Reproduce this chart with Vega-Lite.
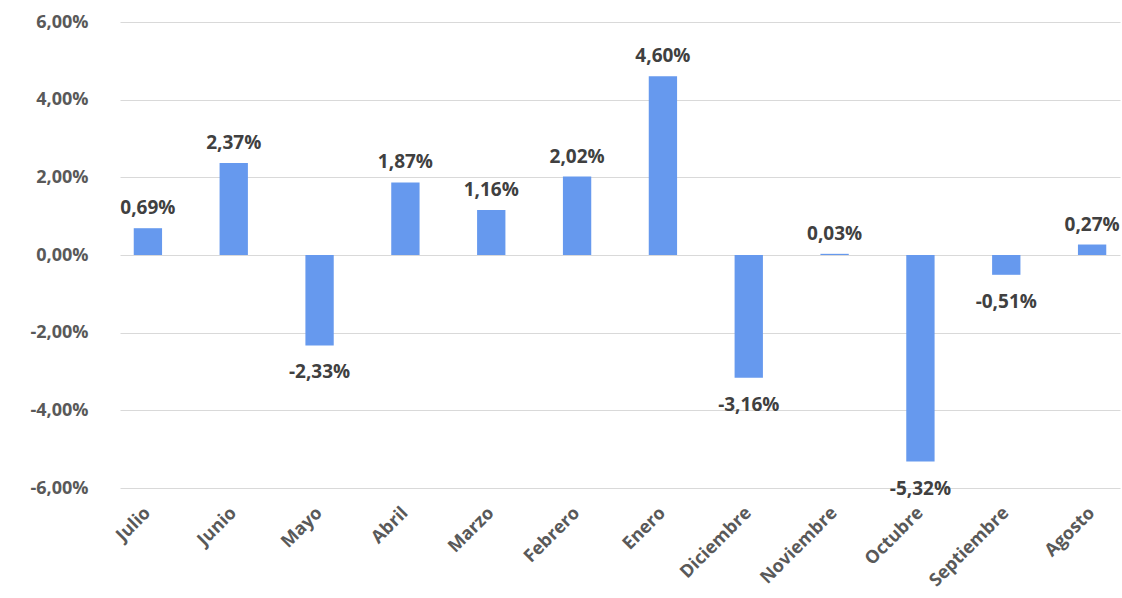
{
"$schema":"https://vega.github.io/schema/vega-lite/v6.json",
"autosize":{"type":"none"},
"padding":{"left":120,"top":22,"right":2,"bottom":110},
"width":1000,"height":466,
"config":{"locale":{"number":{"decimal":",","thousands":".","grouping":[3],"currency":["","€"],"minus":"-"}},"view":{"stroke":null},"font":"Open Sans"},
"data":{"values":[
{"m":"Julio","v":0.0069},{"m":"Junio","v":0.0237},{"m":"Mayo","v":-0.0233},{"m":"Abril","v":0.0187},{"m":"Marzo","v":0.0116},{"m":"Febrero","v":0.0202},{"m":"Enero","v":0.046},{"m":"Diciembre","v":-0.0316},{"m":"Noviembre","v":0.0003},{"m":"Octubre","v":-0.0532},{"m":"Septiembre","v":-0.0051},{"m":"Agosto","v":0.0027}]},
"encoding":{
"x":{"field":"m","type":"nominal","sort":null,"title":null,"scale":{"paddingInner":0.67,"paddingOuter":0.16},
"axis":{"labelAngle":-45,"labelAlign":"right","labelBaseline":"middle","labelFontSize":18,"labelFontWeight":"bold","labelColor":"#595959","labelPadding":22,"domain":false,"ticks":false}},
"y":{"field":"v","type":"quantitative","title":null,"scale":{"domain":[-0.06,0.06]},
"axis":{"values":[-0.06,-0.04,-0.02,0,0.02,0.04,0.06],"format":".2%","labelFontSize":18,"labelFontWeight":"bold","labelColor":"#595959","labelPadding":32,"domain":false,"ticks":false,"gridColor":"#d9d9d9"}}
},
"layer":[
{"mark":{"type":"bar","color":"#6699ee"}},
{"transform":[{"filter":"datum.v>=0"}],"mark":{"type":"text","baseline":"bottom","dy":-10,"fontSize":19,"fontWeight":"bold","color":"#404040"},"encoding":{"text":{"field":"v","format":".2%"}}},
{"transform":[{"filter":"datum.v<0"}],"mark":{"type":"text","baseline":"top","dy":18,"fontSize":19,"fontWeight":"bold","color":"#404040"},"encoding":{"text":{"field":"v","format":".2%"}}}
]
}
